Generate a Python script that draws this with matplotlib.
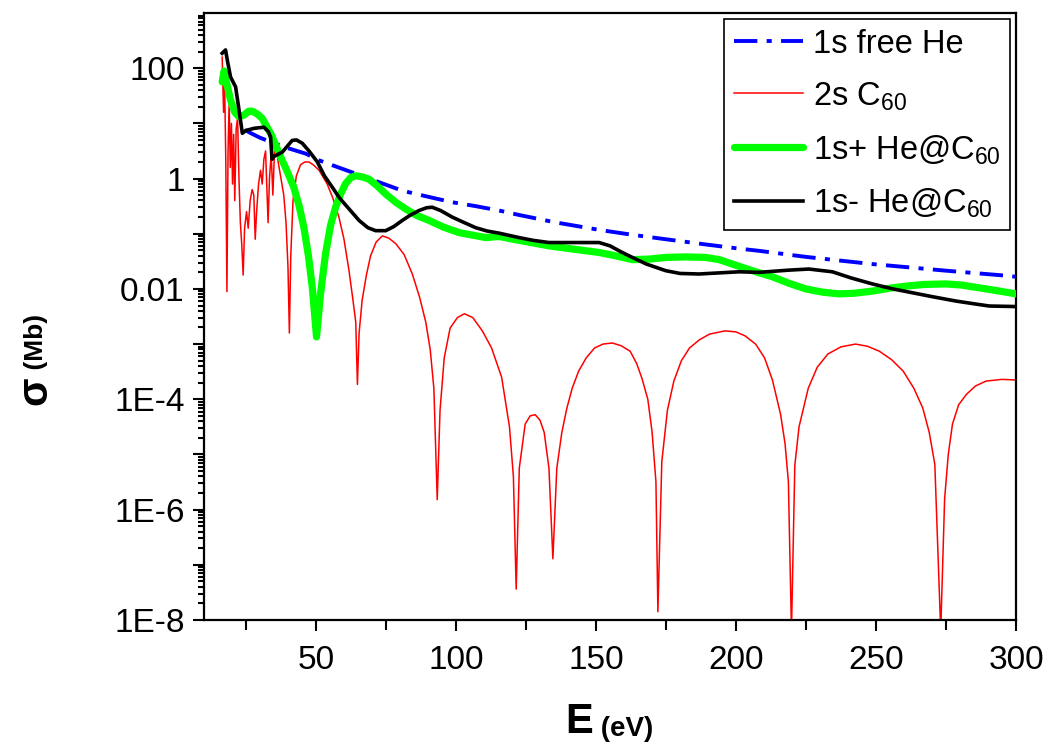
import numpy as np
import matplotlib
matplotlib.use("Agg")
from matplotlib import pyplot as plt
from matplotlib.ticker import FixedLocator, FixedFormatter, LogLocator, NullFormatter

plt.rcParams['font.family'] = ['Liberation Sans', 'DejaVu Sans']
plt.rcParams['mathtext.fontset'] = 'custom'
plt.rcParams['mathtext.rm'] = 'Liberation Sans'

# photon energy (eV) and log10 of cross section (Mb)
# 1s free He
e_he = [24.6, 26.8, 30, 34, 40, 46.4, 51.1, 57, 63, 70, 80.8, 90, 98.7, 107, 115.4,
        122.5, 135, 151.1, 163, 174.9, 190, 201.1, 208.2, 225, 248.7, 275, 296.3, 300]
lg_he = [0.88, 0.82, 0.74, 0.66, 0.55, 0.45, 0.33, 0.22, 0.11, -0.02, -0.22, -0.33, -0.43,
         -0.5, -0.58, -0.66, -0.79, -0.93, -1.02, -1.1, -1.2, -1.27, -1.31, -1.42, -1.55,
         -1.67, -1.76, -1.78]

# 2s C60
e_c60 = [16.5, 17.0, 17.4, 17.8, 18.2, 18.6, 19.0, 19.4, 19.8, 20.2, 20.6, 21.0, 21.5,
         22.0, 22.5, 23.0, 23.5, 24.0, 24.5, 25.2, 25.8, 26.5, 27.2, 27.8, 28.3, 28.8,
         29.5, 30.2, 30.8, 31.4, 32.0, 32.5, 32.9, 33.4, 34.0, 34.6, 35.2, 35.8, 36.5,
         37.5, 38.5, 39.3, 40.0, 40.5, 41.0, 41.8, 43.0, 44.5, 46.0, 47.5, 49.0, 51.1,
         54.0, 56.0, 58.2, 60.0, 61.8, 63.2, 64.2, 64.8, 65.4, 66.5, 68.0, 69.5, 71.5,
         73.7, 76.0, 78.5, 81.5, 84.4, 87.0, 89.2, 90.8, 92.1, 93.3, 94.3, 95.8, 97.9,
         100.5, 103.0, 106.0, 109.4, 112.7, 116.3, 119.1, 120.5, 121.5, 122.6, 124.7,
         126.5, 128.3, 130.0, 131.5, 133.2, 134.6, 136.0, 137.8, 139.6, 141.5, 143.8,
         146.5, 149.5, 152.5, 155.8, 159.0, 162.2, 164.5, 166.4, 168.5, 170.0, 171.4,
         172.1, 173.5, 175.5, 177.8, 180.5, 183.4, 187.0, 190.5, 196.1, 200.0, 203.2,
         207.0, 210.2, 213.0, 215.9, 217.5, 218.7, 219.8, 221.0, 222.5, 225.8, 229.0,
         232.8, 237.5, 242.7, 247.0, 251.2, 255.5, 259.7, 263.5, 266.7, 269.0, 271.0,
         273.1, 274.5, 275.8, 277.3, 279.5, 282.3, 285.5, 289.3, 295.0, 300.0]
lg_c60 = [2.2, 1.2, 1.7, 0.3, -2.05, 0.5, 1.4, 0.2, 1.0, -0.1, 0.8, -0.4, 0.9,
          1.1, 0.0, -0.8, -1.2, -1.75, -0.9, -0.6, -0.9, -0.4, -0.2, -0.3, -1.1, -0.6,
          -0.1, 0.15, -0.1, 0.35, 0.5, -0.2, -0.8, 0.0, 0.45, -0.3, 0.5, 0.6, 0.3,
          0.0, -0.3, -0.8, -1.6, -2.8, -1.4, -0.4, 0.05, 0.25, 0.3, 0.3, 0.25, 0.15,
          -0.1, -0.35, -0.7, -1.1, -1.67, -2.2, -2.6, -3.73, -2.8, -2.2, -1.75, -1.4, -1.15,
          -1.04, -1.08, -1.18, -1.38, -1.73, -2.15, -2.6, -3.1, -3.8, -5.82, -4.2, -3.25, -2.71,
          -2.52, -2.45, -2.52, -2.76, -3.07, -3.6, -4.5, -5.4, -7.44, -5.25, -4.45,
          -4.3, -4.28, -4.38, -4.6, -5.25, -6.89, -5.25, -4.6, -4.16, -3.8, -3.49,
          -3.25, -3.07, -3.0, -2.98, -3.03, -3.13, -3.35, -3.62, -4.0, -4.58, -5.49,
          -7.85, -5.13, -4.2, -3.67, -3.3, -3.07, -2.92, -2.82, -2.76, -2.78, -2.85,
          -3.0, -3.25, -3.65, -4.27, -4.8, -5.49, -8.2, -5.2, -4.5, -3.8, -3.42,
          -3.18, -3.05, -3.0, -3.04, -3.13, -3.28, -3.49, -3.8, -4.16, -4.6, -5.18,
          -8.2, -5.8, -5.0, -4.45, -4.1, -3.91, -3.76, -3.67, -3.64, -3.65]

# 1s+ He@C60
e_plus = [16.5, 17.2, 18.0, 19.5, 21.0, 22.5, 24.3, 26.0, 27.3, 29.0, 30.8, 32.3, 33.8,
          35.5, 37.4, 39.8, 42.1, 44.0, 45.7, 47.3, 48.7, 50.2, 51.6, 53.4, 55.2, 57.0,
          58.8, 60.6, 62.5, 64.2, 66.5, 68.9, 71.8, 74.9, 78.5, 82.0, 86.0, 90.4, 95.5,
          101.1, 110.6, 115.4, 122.5, 133.2, 142, 151.1, 157, 163, 169, 174.9, 182, 189.2,
          194, 198.7, 205.8, 213, 219, 224.9, 231, 236.8, 242, 248.7, 254.5, 260.6, 267,
          274.9, 280.5, 286.8, 293, 300]
lg_plus = [1.75, 1.95, 1.75, 1.42, 1.2, 1.12, 1.15, 1.22, 1.22, 1.17, 1.09, 0.95, 0.82,
           0.62, 0.39, 0.12, -0.16, -0.5, -0.89, -1.4, -1.98, -2.87, -2.1, -1.37, -0.85, -0.52,
           -0.28, -0.09, 0.02, 0.05, 0.03, -0.01, -0.13, -0.28, -0.43, -0.55, -0.67, -0.76, -0.88,
           -0.98, -1.07, -1.05, -1.12, -1.22, -1.28, -1.34, -1.4, -1.47, -1.46, -1.43, -1.42, -1.43,
           -1.47, -1.55, -1.67, -1.78, -1.9, -2.0, -2.06, -2.09, -2.08, -2.04, -1.99, -1.95, -1.92,
           -1.91, -1.93, -1.98, -2.03, -2.09]

# 1s- He@C60
e_minus = [16.5, 17.7, 18.5, 19.5, 21.3, 22.5, 23.7, 24.9, 27.9, 31.4, 33.0, 33.8, 34.3,
           35.0, 38.0, 40.0, 41.5, 43.0, 45.1, 47.5, 50.5, 53, 56.4, 58.2, 61.8, 65.4, 68.5,
           71.3, 74.9, 77.8, 80.8, 83.8, 86.8, 89.5, 91.5, 94.5, 98.7, 103, 107, 111, 115.4,
           122.5, 127.5, 133.2, 142, 151.1, 155, 159, 163, 168, 174.9, 180, 186.8, 201.1,
           208.2, 218.9, 226, 234.4, 241, 248.7, 256, 263, 270, 278.5, 285, 290.4, 300]
lg_minus = [2.27, 2.33, 2.1, 1.84, 1.66, 1.25, 0.82, 0.87, 0.91, 0.93, 0.85, 0.75, 0.35,
            0.4, 0.48, 0.6, 0.69, 0.7, 0.64, 0.5, 0.3, 0.05, -0.2, -0.34, -0.55, -0.76, -0.89,
            -0.945, -0.945, -0.87, -0.76, -0.66, -0.58, -0.53, -0.52, -0.58, -0.7, -0.8, -0.89,
            -0.95, -0.99, -1.07, -1.12, -1.16, -1.16, -1.16, -1.22, -1.33, -1.43, -1.55, -1.67,
            -1.72, -1.73, -1.69, -1.7, -1.66, -1.64, -1.69, -1.8, -1.91, -2.0, -2.07, -2.14,
            -2.22, -2.27, -2.31, -2.32]

x_ticks = [50, 100, 150, 200, 250, 300]
x_minor = [25, 75, 125, 175, 225, 275]
y_ticks = [1e-8, 1e-7, 1e-6, 1e-5, 1e-4, 1e-3, 1e-2, 1e-1, 1, 10, 100]
y_labels = ['1E-8', '', '1E-6', '', '1E-4', '', '0.01', '', '1', '', '100']

fig = plt.figure(figsize=(10.53, 7.46), dpi=100)
ax = fig.add_axes([0.1937, 0.1689, 0.7712, 0.8137])

ax.plot(e_c60, 10 ** np.array(lg_c60), color='#ff0000', lw=1.1, zorder=2,
        label=r'2s C$_\mathregular{60}$')
ax.plot(e_he, 10 ** np.array(lg_he), color='#0000ff', lw=2.8, zorder=3,
        linestyle=(0, (6.0, 2.4, 1.3, 2.4)), label='1s free He')
ax.plot(e_plus, 10 ** np.array(lg_plus), color='#00ff00', lw=5.2, zorder=4,
        solid_capstyle='round', label=r'1s+ He@C$_\mathregular{60}$')
ax.plot(e_minus, 10 ** np.array(lg_minus), color='black', lw=2.6, zorder=5,
        label=r'1s- He@C$_\mathregular{60}$')

ax.set_yscale('log')
ax.set_xlim(10, 300)
ax.set_ylim(1e-8, 1e3)

ax.xaxis.set_major_locator(FixedLocator(x_ticks))
ax.xaxis.set_minor_locator(FixedLocator(x_minor))
ax.yaxis.set_major_locator(FixedLocator(y_ticks))
ax.yaxis.set_major_formatter(FixedFormatter(y_labels))
ax.yaxis.set_minor_locator(LogLocator(base=10, subs=np.arange(2, 10), numticks=30))
ax.yaxis.set_minor_formatter(NullFormatter())

for s in ax.spines.values():
    s.set_linewidth(1.6)
ax.tick_params(which='both', direction='out', top=False, right=False, width=1.5)
ax.tick_params(axis='x', which='major', length=8, pad=10, labelsize=24)
ax.tick_params(axis='x', which='minor', length=7)
ax.tick_params(axis='y', which='major', length=8, pad=6, labelsize=24)
ax.tick_params(axis='y', which='minor', length=4)

# axis labels with big symbol and smaller unit
tx = fig.text(0.563, 0.017, 'E', fontsize=30, fontweight='bold', ha='right', va='baseline')
ax.annotate(' (eV)', xy=(1, 0), xycoords=tx, fontsize=20, fontweight='bold',
            ha='left', va='bottom')
ty = fig.text(0.034, 0.495, 'σ', fontsize=30, fontweight='bold', rotation=90,
              ha='center', va='top')
ax.annotate(' (Mb)', xy=(0.5, 1), xycoords=ty, fontsize=19, fontweight='bold',
            rotation=90, ha='center', va='bottom')

handles, labels = ax.get_legend_handles_labels()
order = [1, 0, 2, 3]
leg = ax.legend([handles[i] for i in order], [labels[i] for i in order],
                loc='upper right', fontsize=23.5, frameon=True, fancybox=False,
                edgecolor='black', framealpha=1, borderaxespad=0.18,
                handlelength=2.1, handletextpad=0.3, labelspacing=0.62,
                borderpad=0.3)
leg.get_frame().set_linewidth(1.2)

fig.savefig('out.png', dpi=100)
